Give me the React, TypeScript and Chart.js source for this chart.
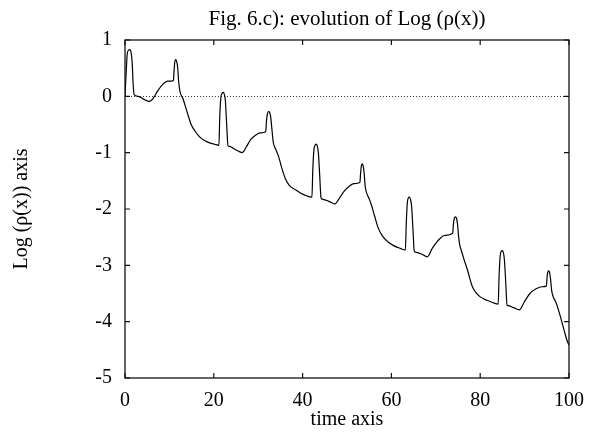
import React, { useEffect, useRef } from "react";
import { Chart, registerables } from "chart.js";

Chart.register(...registerables);

const chartTitle = "Fig. 6.c): evolution of Log (ρ(x))";
const xTitle = "time axis";
const yTitle = "Log (ρ(x)) axis";

const xTicks = [0, 20, 40, 60, 80, 100];
const yTicks = [1, 0, -1, -2, -3, -4, -5];

const timeAxis = [
  0, 0.25, 0.5, 0.8, 1.1, 1.35, 1.6, 1.85, 2.05, 3.0, 4.2, 5.0, 5.6, 6.4, 7.4, 8.6, 9.6,
  10.9, 11.05, 11.2, 11.4, 11.6, 11.85, 12.1, 12.4, 13.0, 14.0, 14.9, 15.8, 16.8, 18.0, 19.2, 20.2,
  21.15, 21.35, 21.6, 21.85, 22.1, 22.35, 22.6, 22.9, 23.2, 23.6, 24.5, 25.5, 26.4, 27.3, 28.3, 29.4, 30.5,
  31.7, 31.85, 32.05, 32.3, 32.55, 32.8, 33.05, 33.4, 33.9, 34.6, 35.3, 36.1, 37.0, 38.4, 39.6, 41.0,
  42.1, 42.3, 42.55, 42.8, 43.05, 43.3, 43.55, 43.85, 44.15, 44.6, 45.8, 47.3, 48.2, 49.2, 50.3, 51.5,
  52.9, 53.05, 53.2, 53.4, 53.6, 53.85, 54.1, 54.4, 55.0, 55.5, 56.2, 57.0, 58.0, 59.2, 60.5, 62.0,
  63.15, 63.35, 63.6, 63.85, 64.05, 64.3, 64.55, 64.85, 65.15, 65.6, 66.8, 68.1, 69.2, 70.4, 72.0,
  73.8, 73.95, 74.15, 74.4, 74.65, 74.9, 75.15, 75.4, 75.8, 76.3, 77.2, 78.2, 79.0, 80.0, 81.5, 82.8,
  84.05, 84.25, 84.5, 84.75, 84.95, 85.2, 85.45, 85.75, 86.05, 86.5, 87.5, 88.8, 90.0, 91.2, 92.5, 94.0,
  94.9, 95.05, 95.2, 95.4, 95.6, 95.85, 96.1, 96.4, 96.9, 97.5, 98.2, 99.0, 99.5, 100.0,
];

const logRho = [
  0, 0.4, 0.75, 0.82, 0.83, 0.79, 0.62, 0.2, 0.03, 0.0, -0.05, -0.08, -0.09, -0.03, 0.1, 0.22, 0.27,
  0.28, 0.45, 0.6, 0.65, 0.63, 0.52, 0.25, 0.08, -0.03, -0.28, -0.5, -0.62, -0.72, -0.79, -0.83, -0.85,
  -0.87, -0.35, -0.02, 0.05, 0.07, 0.04, -0.07, -0.5, -0.88, -0.89, -0.93, -0.97, -1.0, -0.9, -0.77, -0.69, -0.65,
  -0.63, -0.45, -0.32, -0.27, -0.28, -0.36, -0.55, -0.82, -0.93, -1.07, -1.27, -1.46, -1.58, -1.66, -1.72, -1.77,
  -1.79, -1.3, -0.95, -0.87, -0.85, -0.88, -1.0, -1.4, -1.8, -1.83, -1.86, -1.91, -1.82, -1.7, -1.61, -1.55,
  -1.53, -1.38, -1.25, -1.2, -1.22, -1.35, -1.6, -1.71, -1.82, -1.93, -2.12, -2.33, -2.48, -2.58, -2.65, -2.7,
  -2.73, -2.25, -1.88, -1.8, -1.79, -1.83, -1.95, -2.35, -2.75, -2.77, -2.8, -2.85, -2.7, -2.57, -2.47,
  -2.43, -2.28, -2.17, -2.14, -2.16, -2.28, -2.5, -2.64, -2.75, -2.88, -3.1, -3.37, -3.48, -3.56, -3.62, -3.66,
  -3.69, -3.2, -2.83, -2.75, -2.74, -2.77, -2.9, -3.3, -3.71, -3.72, -3.75, -3.79, -3.64, -3.5, -3.42, -3.38,
  -3.37, -3.22, -3.13, -3.1, -3.12, -3.25, -3.45, -3.55, -3.63, -3.76, -3.95, -4.18, -4.32, -4.42,
];

const FONT = '"Liberation Serif", "Times New Roman", Times, serif';

const framePlugin = {
  id: "frameAndTicks",
  beforeDatasetsDraw(chart: any) {
    const { ctx, chartArea: a, scales } = chart;
    const y0 = Math.round(scales.y.getPixelForValue(0)) + 0.5;
    ctx.save();
    ctx.strokeStyle = "#000";
    ctx.lineWidth = 0.8;
    ctx.setLineDash([1, 2]);
    ctx.beginPath();
    ctx.moveTo(a.left, y0);
    ctx.lineTo(a.right, y0);
    ctx.stroke();
    ctx.restore();
  },
  afterDatasetsDraw(chart: any) {
    const { ctx, chartArea: a, scales } = chart;
    const len = 5;
    ctx.save();
    ctx.strokeStyle = "#111";
    ctx.lineWidth = 1.2;
    ctx.setLineDash([]);
    ctx.beginPath();
    for (const v of xTicks) {
      const px = scales.x.getPixelForValue(v);
      ctx.moveTo(px, a.bottom);
      ctx.lineTo(px, a.bottom - len);
      ctx.moveTo(px, a.top);
      ctx.lineTo(px, a.top + len);
    }
    for (const v of yTicks) {
      const py = scales.y.getPixelForValue(v);
      ctx.moveTo(a.left, py);
      ctx.lineTo(a.left + len, py);
      ctx.moveTo(a.right, py);
      ctx.lineTo(a.right - len, py);
    }
    ctx.stroke();
    ctx.lineWidth = 1.3;
    ctx.strokeRect(a.left, a.top, a.right - a.left, a.bottom - a.top);
    ctx.restore();
  },
};

export default function App() {
  const ref = useRef<HTMLCanvasElement | null>(null);

  useEffect(() => {
    if (!ref.current) return;
    const points = timeAxis.map((t, i) => ({ x: t, y: logRho[i] }));
    const chart = new Chart(ref.current, {
      type: "line",
      data: {
        datasets: [
          {
            data: points,
            borderColor: "#000",
            borderWidth: 1.2,
            pointRadius: 0,
            fill: false,
            cubicInterpolationMode: "monotone",
          },
        ],
      },
      options: {
        responsive: false,
        animation: false,
        devicePixelRatio: 1,
        layout: { padding: { left: 0, right: 22, top: 0, bottom: 0 } },
        plugins: {
          legend: { display: false },
          tooltip: { enabled: false },
          title: {
            display: true,
            text: chartTitle,
            fullSize: false,
            color: "#000",
            font: { family: FONT, size: 21, weight: "normal" },
            padding: { top: 7, bottom: 7.8 },
          },
        },
        scales: {
          x: {
            type: "linear",
            min: 0,
            max: 100,
            afterBuildTicks: (s: any) => {
              s.ticks = xTicks.map((v) => ({ value: v }));
            },
            afterFit: (s: any) => {
              s.height = 54;
            },
            grid: { display: false, drawTicks: false },
            border: { display: false },
            ticks: {
              color: "#000",
              font: { family: FONT, size: 20 },
              padding: 11,
              maxRotation: 0,
              autoSkip: false,
            },
            title: {
              display: true,
              text: xTitle,
              color: "#000",
              font: { family: FONT, size: 20 },
              padding: { top: 0, bottom: 0 },
            },
          },
          y: {
            type: "linear",
            min: -5,
            max: 1,
            afterBuildTicks: (s: any) => {
              s.ticks = yTicks.map((v) => ({ value: v }));
            },
            afterFit: (s: any) => {
              s.width = 125;
            },
            grid: { display: false, drawTicks: false },
            border: { display: false },
            ticks: {
              color: "#000",
              font: { family: FONT, size: 20 },
              padding: 13,
              autoSkip: false,
            },
            title: {
              display: true,
              text: yTitle,
              color: "#000",
              font: { family: FONT, size: 20 },
              padding: { top: 10, bottom: 0 },
            },
          },
        },
      },
      plugins: [framePlugin],
    } as any);
    return () => chart.destroy();
  }, []);

  return (
    <div style={{ position: "fixed", left: 0, top: 0, width: 595, height: 432, background: "#fff" }}>
      <canvas ref={ref} width={595} height={432} style={{ display: "block", width: 595, height: 432 }} />
    </div>
  );
}
